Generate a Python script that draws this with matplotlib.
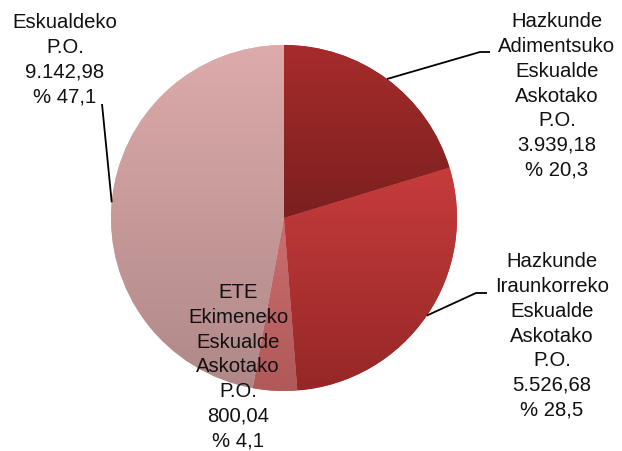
import numpy as np
import matplotlib.pyplot as plt
from matplotlib.colors import LinearSegmentedColormap

# programme names, amounts (euros, thousands) and shares
names = ['Hazkunde\nAdimentsuko\nEskualde\nAskotako\nP.O.',
         'Hazkunde\nIraunkorreko\nEskualde\nAskotako\nP.O.',
         'ETE\nEkimeneko\nEskualde\nAskotako\nP.O.',
         'Eskualdeko\nP.O.']
values = [3939.18, 5526.68, 800.04, 9142.98]
value_txt = ['3.939,18', '5.526,68', '800,04', '9.142,98']
pct_txt = ['20,3', '28,5', '4,1', '47,1']

top_colors = ['#a72c2c', '#c63c3b', '#cb6e6e', '#ddabab']
bottom_colors = ['#7b1f1f', '#962727', '#b05959', '#b08888']

# label placement (pixels from top-left) and leader elbows
label_pos = [(557, 96), (552, 336), (238, 367), (65, 60)]
elbows = [[(480, 53), (490, 53)], [(476, 294), (487, 294)], None, [(102, 105)]]

W, H = 622, 452
cx, cy, r = 284, H - 219, 173

fig = plt.figure(figsize=(6.22, 4.52), dpi=100)
ax = fig.add_axes([0, 0, 1, 1])

wedges, _ = ax.pie(values, startangle=90, counterclock=False, center=(cx, cy),
                   radius=r, wedgeprops=dict(linewidth=0))

grad = np.linspace(0, 1, 256).reshape(-1, 1)
for w, c0, c1 in zip(wedges, top_colors, bottom_colors):
    w.set_facecolor(c0)
    bb = w.get_path().get_extents()
    cmap = LinearSegmentedColormap.from_list('g', [c0, c1])
    im = ax.imshow(grad, extent=(bb.x0, bb.x1, bb.y0, bb.y1), origin='upper',
                   cmap=cmap, aspect='auto', zorder=w.get_zorder() + 0.1,
                   interpolation='bilinear')
    im.set_clip_path(w)

for i, w in enumerate(wedges):
    txt = names[i] + '\n' + value_txt[i] + '\n% ' + pct_txt[i]
    lx, ly = label_pos[i]
    ax.text(lx, H - ly, txt, ha='center', va='center', fontsize=14.6,
            linespacing=1.38, family='Liberation Sans', color='#111111', zorder=5)
    if elbows[i] is None:
        continue
    mid = np.deg2rad((w.theta1 + w.theta2) / 2)
    xs = [cx + r * np.cos(mid)] + [p[0] for p in elbows[i]]
    ys = [cy + r * np.sin(mid)] + [H - p[1] for p in elbows[i]]
    ax.plot(xs, ys, color='black', lw=1.3, zorder=4, solid_capstyle='butt')

ax.set_xlim(0, W)
ax.set_ylim(0, H)
ax.set_axis_off()

fig.savefig('out.png', dpi=100, facecolor='white')
